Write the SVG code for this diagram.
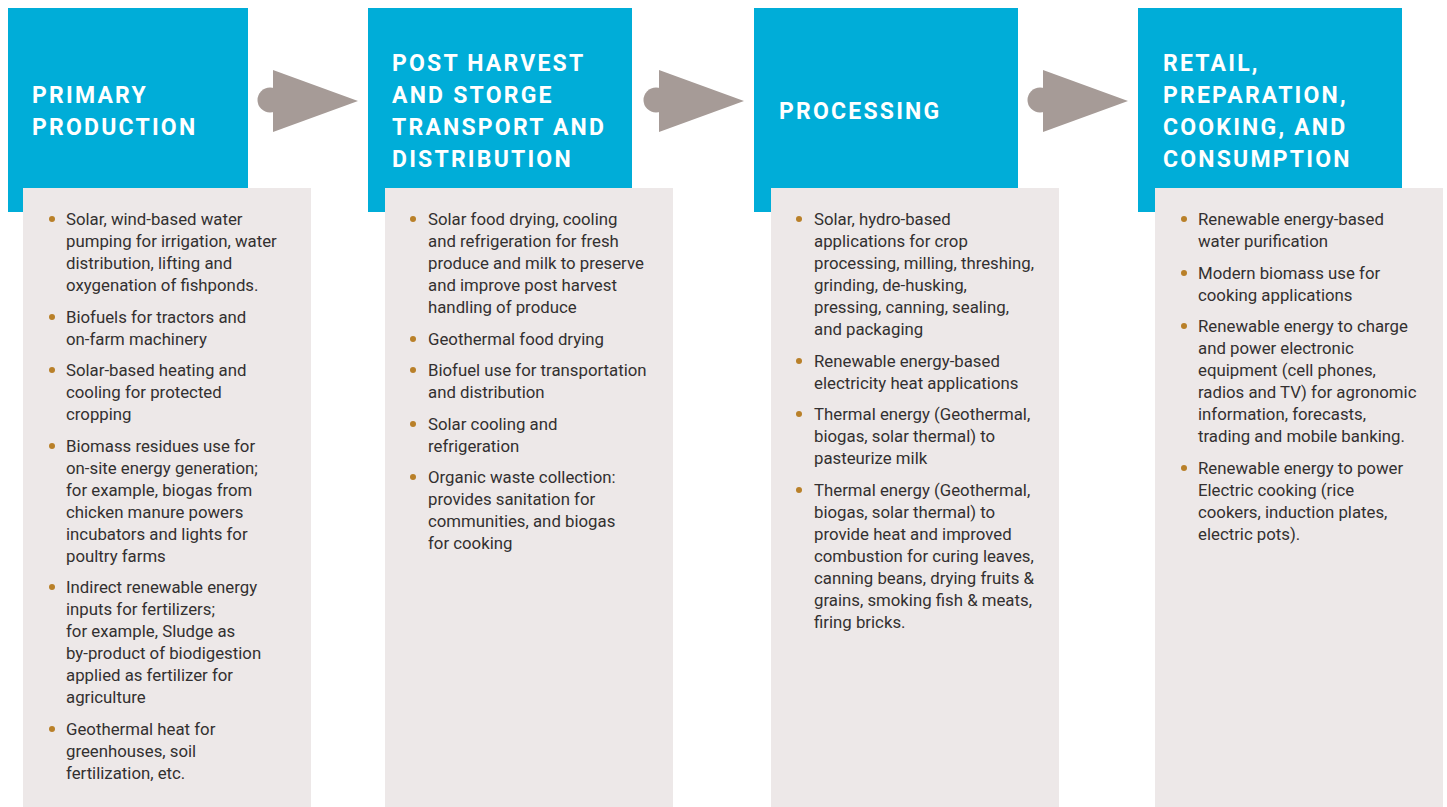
<svg xmlns="http://www.w3.org/2000/svg" width="1447" height="807" viewBox="0 0 1447 807">
<style>
.hdr{fill:#00ADD8}
.card{fill:#EDE8E8}
.ttl{font-family:Roboto,"Liberation Sans",sans-serif;font-weight:bold;font-size:23px;letter-spacing:2.2px;fill:#FFFFFF}
.txt{font-family:Roboto,"Liberation Sans",sans-serif;font-size:16.8px;fill:#333030}
.dot{fill:#B98029}
.arr{fill:#A69B97}
</style>
<rect width="1447" height="807" fill="#FFFFFF"/>
<g id="connectors">
<g class="arr"><circle cx="270" cy="100" r="12.5"/><polygon points="273,70 358,101 273,132"/></g>
<g class="arr"><circle cx="656" cy="100" r="12.5"/><polygon points="659,70 744,101 659,132"/></g>
<g class="arr"><circle cx="1040" cy="100" r="12.5"/><polygon points="1043,70 1128,101 1043,132"/></g>
</g>
<g id="node-primary">
<rect class="hdr" x="8" y="8" width="240" height="204"/>
<rect class="card" x="23" y="188" width="288" height="619"/>
<text class="ttl" x="32" y="103">PRIMARY</text>
<text class="ttl" x="32" y="135">PRODUCTION</text>
<g class="dot"><circle cx="52" cy="219" r="3"/><circle cx="52" cy="317" r="3"/><circle cx="52" cy="370" r="3"/><circle cx="52" cy="446" r="3"/><circle cx="52" cy="587" r="3"/><circle cx="52" cy="729" r="3"/></g>
<text class="txt">
<tspan x="66" y="225">Solar, wind-based water</tspan>
<tspan x="66" y="247">pumping for irrigation, water</tspan>
<tspan x="66" y="269">distribution, lifting and</tspan>
<tspan x="66" y="291">oxygenation of fishponds.</tspan>
<tspan x="66" y="323">Biofuels for tractors and</tspan>
<tspan x="66" y="345">on-farm machinery</tspan>
<tspan x="66" y="376">Solar-based heating and</tspan>
<tspan x="66" y="398">cooling for protected</tspan>
<tspan x="66" y="420">cropping</tspan>
<tspan x="66" y="452">Biomass residues use for</tspan>
<tspan x="66" y="474">on-site energy generation;</tspan>
<tspan x="66" y="496">for example, biogas from</tspan>
<tspan x="66" y="518">chicken manure powers</tspan>
<tspan x="66" y="540">incubators and lights for</tspan>
<tspan x="66" y="562">poultry farms</tspan>
<tspan x="66" y="593">Indirect renewable energy</tspan>
<tspan x="66" y="615">inputs for fertilizers;</tspan>
<tspan x="66" y="637">for example, Sludge as</tspan>
<tspan x="66" y="659">by-product of biodigestion</tspan>
<tspan x="66" y="681">applied as fertilizer for</tspan>
<tspan x="66" y="703">agriculture</tspan>
<tspan x="66" y="735">Geothermal heat for</tspan>
<tspan x="66" y="757">greenhouses, soil</tspan>
<tspan x="66" y="779">fertilization, etc.</tspan>
</text>
</g>
<g id="node-postharvest">
<rect class="hdr" x="368" y="8" width="264" height="204"/>
<rect class="card" x="385" y="188" width="288" height="619"/>
<text class="ttl" x="392" y="71">POST HARVEST</text>
<text class="ttl" x="392" y="103">AND STORGE</text>
<text class="ttl" x="392" y="135">TRANSPORT AND</text>
<text class="ttl" x="392" y="167">DISTRIBUTION</text>
<g class="dot"><circle cx="413" cy="219" r="3"/><circle cx="413" cy="339" r="3"/><circle cx="413" cy="370" r="3"/><circle cx="413" cy="424" r="3"/><circle cx="413" cy="477" r="3"/></g>
<text class="txt">
<tspan x="428" y="225">Solar food drying, cooling</tspan>
<tspan x="428" y="247">and refrigeration for fresh</tspan>
<tspan x="428" y="269">produce and milk to preserve</tspan>
<tspan x="428" y="291">and improve post harvest</tspan>
<tspan x="428" y="313">handling of produce</tspan>
<tspan x="428" y="345">Geothermal food drying</tspan>
<tspan x="428" y="376">Biofuel use for transportation</tspan>
<tspan x="428" y="398">and distribution</tspan>
<tspan x="428" y="430">Solar cooling and</tspan>
<tspan x="428" y="452">refrigeration</tspan>
<tspan x="428" y="483">Organic waste collection:</tspan>
<tspan x="428" y="505">provides sanitation for</tspan>
<tspan x="428" y="527">communities, and biogas</tspan>
<tspan x="428" y="549">for cooking</tspan>
</text>
</g>
<g id="node-processing">
<rect class="hdr" x="754" y="8" width="264" height="204"/>
<rect class="card" x="771" y="188" width="288" height="619"/>
<text class="ttl" x="779" y="119">PROCESSING</text>
<g class="dot"><circle cx="799" cy="219" r="3"/><circle cx="799" cy="361" r="3"/><circle cx="799" cy="414" r="3"/><circle cx="799" cy="490" r="3"/></g>
<text class="txt">
<tspan x="814" y="225">Solar, hydro-based</tspan>
<tspan x="814" y="247">applications for crop</tspan>
<tspan x="814" y="269">processing, milling, threshing,</tspan>
<tspan x="814" y="291">grinding, de-husking,</tspan>
<tspan x="814" y="313">pressing, canning, sealing,</tspan>
<tspan x="814" y="335">and packaging</tspan>
<tspan x="814" y="367">Renewable energy-based</tspan>
<tspan x="814" y="389">electricity heat applications</tspan>
<tspan x="814" y="420">Thermal energy (Geothermal,</tspan>
<tspan x="814" y="442">biogas, solar thermal) to</tspan>
<tspan x="814" y="464">pasteurize milk</tspan>
<tspan x="814" y="496">Thermal energy (Geothermal,</tspan>
<tspan x="814" y="518">biogas, solar thermal) to</tspan>
<tspan x="814" y="540">provide heat and improved</tspan>
<tspan x="814" y="562">combustion for curing leaves,</tspan>
<tspan x="814" y="584">canning beans, drying fruits &amp;</tspan>
<tspan x="814" y="606">grains, smoking fish &amp; meats,</tspan>
<tspan x="814" y="628">firing bricks.</tspan>
</text>
</g>
<g id="node-retail">
<rect class="hdr" x="1138" y="8" width="264" height="204"/>
<rect class="card" x="1155" y="188" width="288" height="619"/>
<text class="ttl" x="1163" y="71">RETAIL,</text>
<text class="ttl" x="1163" y="103">PREPARATION,</text>
<text class="ttl" x="1163" y="135">COOKING, AND</text>
<text class="ttl" x="1163" y="167">CONSUMPTION</text>
<g class="dot"><circle cx="1184" cy="219" r="3"/><circle cx="1184" cy="273" r="3"/><circle cx="1184" cy="326" r="3"/><circle cx="1184" cy="468" r="3"/></g>
<text class="txt">
<tspan x="1198" y="225">Renewable energy-based</tspan>
<tspan x="1198" y="247">water purification</tspan>
<tspan x="1198" y="279">Modern biomass use for</tspan>
<tspan x="1198" y="301">cooking applications</tspan>
<tspan x="1198" y="332">Renewable energy to charge</tspan>
<tspan x="1198" y="354">and power electronic</tspan>
<tspan x="1198" y="376">equipment (cell phones,</tspan>
<tspan x="1198" y="398">radios and TV) for agronomic</tspan>
<tspan x="1198" y="420">information, forecasts,</tspan>
<tspan x="1198" y="442">trading and mobile banking.</tspan>
<tspan x="1198" y="474">Renewable energy to power</tspan>
<tspan x="1198" y="496">Electric cooking (rice</tspan>
<tspan x="1198" y="518">cookers, induction plates,</tspan>
<tspan x="1198" y="540">electric pots).</tspan>
</text>
</g>
</svg>
